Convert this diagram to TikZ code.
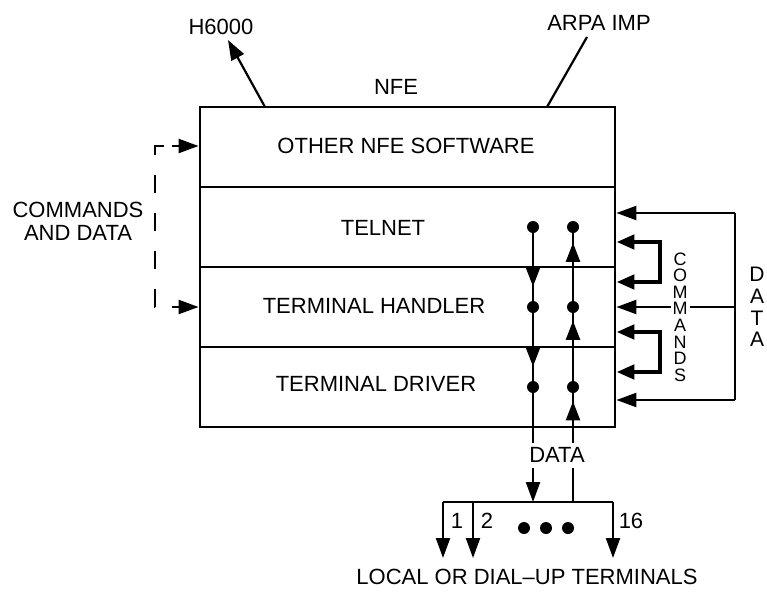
\documentclass[tikz,border=0pt]{standalone}
\usepackage{fontspec}
\setmainfont{Liberation Sans}
\usetikzlibrary{arrows.meta,decorations.markings,calc}

\begin{document}
\begin{tikzpicture}[
    x=0.5pt, y=-0.5pt,
    font=\fontsize{11}{13}\selectfont,
    layer/.style={draw, line width=1.4pt, minimum width=207.5pt, minimum height=40pt, inner sep=0pt},
    dot/.style={circle, fill, minimum size=6pt, inner sep=0pt},
    tip/.style={line width=1.1pt, -{Triangle[length=10pt,width=7pt]}},
    wire/.style={line width=1.1pt},
    midtip/.style={line width=1.1pt, postaction={decorate},
        decoration={markings, mark=at position #1 with {\arrow{Triangle[length=9.5pt,width=7pt]}}}},
    loopline/.style={line width=2.4pt, {Triangle[length=9pt,width=7pt]}-{Triangle[length=9pt,width=7pt]}},
    vtext/.style={align=center, inner sep=1pt}
]
    \useasboundingbox (0,0) rectangle (767,595);

    % NFE layers
    \node[layer] (nfe) at (407.5,147) {};
    \node[layer] (telnet) at (407.5,227) {};
    \node[layer] (handler) at (407.5,307) {};
    \node[layer] (driver) at (407.5,387) {};

    \node (tnfe) at (406,146) {OTHER NFE SOFTWARE};
    \node (ttelnet) at (383,228) {TELNET};
    \node (thandler) at (374,306) {TERMINAL HANDLER};
    \node (tdriver) at (376,384) {TERMINAL DRIVER};

    % outside connections
    \node (nfelbl) at (396,87) {NFE};
    \node (h6000) at (221,27) {H6000};
    \node (arpa) at (599,23) {ARPA IMP};
    \coordinate (hout) at (265,107);
    \coordinate (htip) at (228,40);
    \coordinate (aout) at (547,107);
    \coordinate (aend) at (587,37);
    \draw[tip] (hout) -- (htip);
    \draw[wire] (aout) -- (aend);

    % commands and data from the left
    \node[align=center, font=\fontsize{11}{11.5}\selectfont] (cdleft) at (78,221) {COMMANDS\\AND DATA};
    \coordinate (ktop) at (155,146);
    \coordinate (kbot) at (155,307);
    \draw[wire, dash pattern=on 9pt off 10pt] ($(ktop)+(9,0)$) -- (ktop) -- (kbot) -- ($(kbot)+(9,0)$);
    \draw[tip] ($(ktop)+(17,0)$) -- (ktop -| nfe.west);
    \draw[tip] ($(kbot)+(17,0)$) -- (kbot -| handler.west);

    % data paths through the layers
    \node[dot] (dl1) at (533,227) {};
    \node[dot] (dl2) at (533,307) {};
    \node[dot] (dl3) at (533,387) {};
    \node[dot] (dr1) at (573,227) {};
    \node[dot] (dr2) at (573,307) {};
    \node[dot] (dr3) at (573,387) {};

    \draw[midtip=0.79] (dl1) -- (dl2);
    \draw[midtip=0.79] (dl2) -- (dl3);
    \draw[midtip=0.86] (dr2) -- (dr1);
    \draw[midtip=0.89] (dr3) -- (dr2);

    \node (datalbl) at (557,455) {DATA};
    \coordinate (gl) at (533,443);
    \coordinate (gr) at (573,443);
    \coordinate (bl) at (533,468);
    \coordinate (br) at (573,468);
    \draw[wire] (dl3) -- (gl);
    \draw[midtip=0.84] (gr) -- (dr3);

    % terminals
    \coordinate (bw) at (443,502);
    \coordinate (be) at (613,502);
    \coordinate (t1) at (443,558);
    \coordinate (t2) at (473,558);
    \coordinate (t16) at (613,558);
    \draw[wire] (bw) -- (be);
    \draw[tip] (bl) -- (bl |- bw);
    \draw[wire] (br) -- (br |- bw);
    \draw[tip] (bw) -- (t1);
    \draw[tip] (bw -| t2) -- (t2);
    \draw[tip] (be) -- (t16);

    \node (n1) at (457,521) {1};
    \node (n2) at (487,521) {2};
    \node (n16) at (631,521) {16};
    \node[dot] (e1) at (524,528) {};
    \node[dot] (e2) at (546,528) {};
    \node[dot] (e3) at (568,528) {};
    \node (terms) at (527,577) {LOCAL OR DIAL--UP TERMINALS};

    % data and commands from the right
    \coordinate (dtop) at (735,213);
    \coordinate (dmid) at (735,307);
    \coordinate (dbot) at (735,400);
    \draw[wire] (dtop) -- (dbot);
    \draw[tip] (dtop) -- (dtop -| telnet.east);
    \draw[tip] (dmid) -- (dmid -| handler.east);
    \draw[tip] (dbot) -- (dbot -| driver.east);

    \coordinate (cu1) at (660,242);
    \coordinate (cu2) at (660,282);
    \coordinate (cl1) at (660,332);
    \coordinate (cl2) at (660,372);
    \draw[loopline] (cu1 -| telnet.east) -- (cu1) -- (cu2) -- (cu2 -| handler.east);
    \draw[loopline] (cl1 -| handler.east) -- (cl1) -- (cl2) -- (cl2 -| driver.east);

    \node[vtext, fill=white, font=\fontsize{9}{8.3}\selectfont] (cmds) at (680,317) {C\\O\\M\\M\\A\\N\\D\\S};
    \node[vtext, font=\fontsize{10.5}{10.8}\selectfont] (datav) at (757,307) {D\\A\\T\\A};
\end{tikzpicture}
\end{document}
